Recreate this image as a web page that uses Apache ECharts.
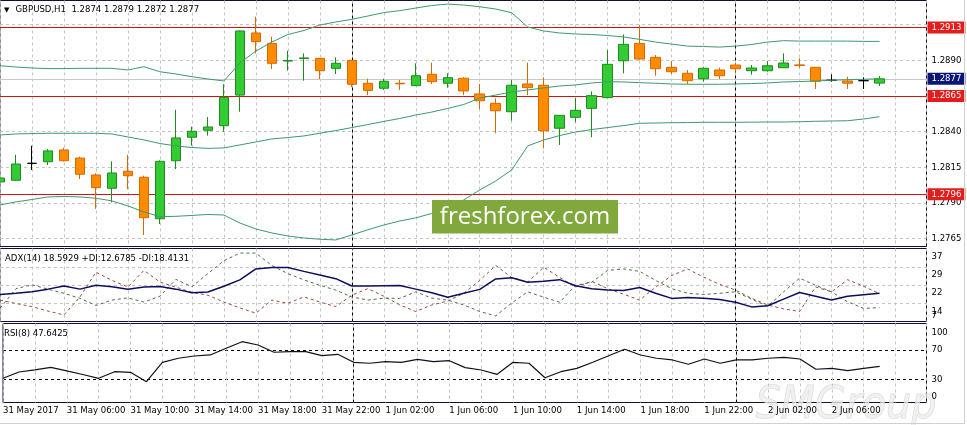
<!DOCTYPE html>
<html>
<head>
<meta charset="utf-8">
<script src="https://cdn.jsdelivr.net/npm/echarts@6/dist/echarts.min.js"></script>
<style>html,body{margin:0;padding:0;background:#fff;overflow:hidden}#c{width:967px;height:425px}</style>
</head>
<body>
<div id="c"></div>
<script>
// ---------------- data ----------------
const symbolName = 'GBPUSD,H1';
const adxPeriod = 14;
const rsiPeriod = 8;

const times = [
  '31 May 02:00','31 May 03:00','31 May 04:00','31 May 05:00','31 May 06:00','31 May 07:00','31 May 08:00','31 May 09:00',
  '31 May 10:00','31 May 11:00','31 May 12:00','31 May 13:00','31 May 14:00','31 May 15:00','31 May 16:00','31 May 17:00',
  '31 May 18:00','31 May 19:00','31 May 20:00','31 May 21:00','31 May 22:00','31 May 23:00',
  '1 Jun 00:00','1 Jun 01:00','1 Jun 02:00','1 Jun 03:00','1 Jun 04:00','1 Jun 05:00','1 Jun 06:00','1 Jun 07:00',
  '1 Jun 08:00','1 Jun 09:00','1 Jun 10:00','1 Jun 11:00','1 Jun 12:00','1 Jun 13:00','1 Jun 14:00','1 Jun 15:00',
  '1 Jun 16:00','1 Jun 17:00','1 Jun 18:00','1 Jun 19:00','1 Jun 20:00','1 Jun 21:00','1 Jun 22:00','1 Jun 23:00',
  '2 Jun 00:00','2 Jun 01:00','2 Jun 02:00','2 Jun 03:00','2 Jun 04:00','2 Jun 05:00','2 Jun 06:00','2 Jun 07:00',
  '2 Jun 08:00','2 Jun 09:00'
];

const tickBars = ['31 May 02:00','31 May 06:00','31 May 10:00','31 May 14:00','31 May 18:00','31 May 22:00',
  '1 Jun 02:00','1 Jun 06:00','1 Jun 10:00','1 Jun 14:00','1 Jun 18:00','1 Jun 22:00','2 Jun 02:00','2 Jun 06:00'];
const tickLabels = ['31 May 2017','31 May 06:00','31 May 10:00','31 May 14:00','31 May 18:00','31 May 22:00',
  '1 Jun 02:00','1 Jun 06:00','1 Jun 10:00','1 Jun 14:00','1 Jun 18:00','1 Jun 22:00','2 Jun 02:00','2 Jun 06:00'];

const opens = [1.28046,1.28058,1.28177,1.28188,1.28271,1.28214,1.28095,1.28002,1.28121,1.28079,1.27788,1.28195,1.28360,1.28409,
  1.28441,1.28656,1.29092,1.29019,1.28895,1.28913,1.28914,1.28844,1.28900,1.28739,1.28704,1.28739,1.28722,1.28802,
  1.28739,1.28774,1.28664,1.28598,1.28539,1.28734,1.28725,1.28423,1.28500,1.28563,1.28638,1.28897,1.29019,1.28921,
  1.28851,1.28809,1.28771,1.28832,1.28867,1.28827,1.28827,1.28848,1.28868,1.28851,1.28760,1.28755,1.28757,1.28740];
const closes = [1.28074,1.28172,1.28177,1.28264,1.28195,1.28100,1.28006,1.28109,1.28090,1.27795,1.28191,1.28355,1.28402,1.28432,
  1.28640,1.29106,1.29031,1.28879,1.28899,1.28917,1.28827,1.28879,1.28732,1.28689,1.28753,1.28735,1.28792,1.28750,
  1.28778,1.28685,1.28616,1.28546,1.28725,1.28708,1.28406,1.28514,1.28549,1.28652,1.28872,1.29012,1.28909,1.28841,
  1.28820,1.28757,1.28844,1.28792,1.28841,1.28846,1.28862,1.28881,1.28864,1.28753,1.28760,1.28739,1.28757,1.28770];
const lows = [1.28010,1.28055,1.28130,1.28165,1.28190,1.28067,1.27858,1.27903,1.27995,1.27674,1.27751,1.28137,1.28301,1.28371,
  1.28399,1.28539,1.28949,1.28839,1.28827,1.28757,1.28769,1.28804,1.28711,1.28656,1.28692,1.28692,1.28720,1.28734,
  1.28708,1.28656,1.28558,1.28388,1.28476,1.28656,1.28282,1.28306,1.28465,1.28360,1.28636,1.28809,1.28902,1.28792,
  1.28804,1.28734,1.28750,1.28769,1.28820,1.28799,1.28820,1.28847,1.28848,1.28699,1.28750,1.28699,1.28699,1.28720];
const highs = [1.28102,1.28237,1.28300,1.28278,1.28287,1.28224,1.28107,1.28191,1.28237,1.28090,1.28198,1.28553,1.28434,1.28502,
  1.28732,1.29110,1.29206,1.29066,1.28967,1.28949,1.28916,1.28921,1.28902,1.28771,1.28771,1.28762,1.28879,1.28883,
  1.28809,1.28781,1.28734,1.28633,1.28762,1.28883,1.28781,1.28516,1.28635,1.28682,1.28972,1.29082,1.29146,1.28937,
  1.28895,1.28832,1.28851,1.28848,1.28879,1.28867,1.28895,1.28949,1.28914,1.28852,1.28802,1.28785,1.28781,1.28790];

const bbUpper = [1.28862,1.28853,1.28846,1.28842,1.28842,1.28844,1.28844,1.28844,1.28832,1.28855,1.28820,1.28804,1.28785,1.28769,
  1.28755,1.28881,1.28965,1.29028,1.29081,1.29109,1.29148,1.29169,1.29188,1.29211,1.29235,1.29249,1.29267,1.29285,
  1.29295,1.29288,1.29276,1.29260,1.29234,1.29134,1.29106,1.29092,1.29085,1.29081,1.29074,1.29064,1.29047,1.29028,
  1.29014,1.29000,1.28997,1.28993,1.29000,1.29011,1.29028,1.29038,1.29035,1.29035,1.29035,1.29035,1.29033,1.29033];
const bbMiddle = [1.28376,1.28383,1.28386,1.28388,1.28388,1.28388,1.28388,1.28383,1.28362,1.28341,1.28316,1.28299,1.28288,1.28282,
  1.28285,1.28306,1.28327,1.28348,1.28358,1.28369,1.28388,1.28407,1.28428,1.28449,1.28471,1.28492,1.28516,1.28537,
  1.28562,1.28590,1.28635,1.28656,1.28678,1.28692,1.28706,1.28720,1.28727,1.28741,1.28750,1.28748,1.28743,1.28739,
  1.28734,1.28732,1.28732,1.28732,1.28734,1.28737,1.28741,1.28748,1.28751,1.28755,1.28760,1.28764,1.28767,1.28771];
const bbLower = [1.27885,1.27906,1.27923,1.27941,1.27944,1.27941,1.27932,1.27913,1.27878,1.27836,1.27802,1.27805,1.27811,1.27818,
  1.27814,1.27758,1.27716,1.27688,1.27667,1.27653,1.27644,1.27639,1.27674,1.27710,1.27744,1.27772,1.27794,1.27825,
  1.27870,1.27920,1.27990,1.28053,1.28130,1.28299,1.28341,1.28372,1.28397,1.28414,1.28428,1.28442,1.28458,1.28460,
  1.28462,1.28463,1.28465,1.28465,1.28465,1.28466,1.28467,1.28467,1.28469,1.28472,1.28474,1.28476,1.28488,1.28504];

const adxMain = [18.1,18.6,19.2,20.3,21.6,20.3,21.9,21.3,20.3,21.2,21.4,20.3,18.8,19.1,21.5,24.1,28.6,29.2,29.2,27.6,26.1,24.6,
  21.6,21.6,21.7,21.8,20.3,18.8,17.0,18.6,20.2,24.5,25.0,23.1,23.5,24.2,21.7,20.5,19.9,19.7,21.0,18.6,16.5,16.9,
  16.6,16.0,14.9,13.0,13.5,16.2,18.9,17.4,15.8,17.4,18.0,18.5929];
const plusDI = [12.4,20.5,22.1,20.3,18.6,16.5,13.6,15.8,16.7,15.0,17.4,24.3,21.3,26.7,32.0,35.1,35.1,30.0,26.7,24.1,21.9,19.9,
  17.1,15.8,16.6,16.5,19.2,16.6,15.8,13.8,11.1,9.3,14.6,19.2,17.0,14.9,21.9,23.1,28.0,28.6,27.6,23.9,20.5,18.6,
  18.1,18.6,19.2,16.2,13.2,19.2,24.8,21.9,19.2,15.1,12.4,12.6785];
const minusDI = [15.8,14.4,13.1,11.3,9.7,17.1,27.3,23.9,21.2,28.0,23.2,21.1,19.0,17.8,15.0,12.6,10.4,15.8,14.5,17.1,15.0,13.1,
  17.8,20.5,17.4,13.8,11.1,13.8,15.4,18.6,23.9,30.0,25.1,23.2,29.3,25.1,21.2,23.5,20.5,18.2,15.8,21.1,25.9,28.6,
  25.2,22.3,19.9,16.5,13.8,12.2,11.1,21.2,19.2,24.2,21.5,18.4131];

const rsiValues = [31.4,40.0,43.0,46.3,41.4,36.6,31.4,40.4,39.6,26.8,53.2,58.7,61.8,63.2,72.3,81.3,76.8,66.9,67.7,67.7,62.2,64.1,
  53.2,51.9,54.0,53.2,57.3,54.0,55.4,45.9,42.7,36.8,53.2,51.9,32.2,40.4,45.0,53.2,62.2,71.0,63.2,58.7,56.4,50.5,
  57.7,51.9,56.4,56.4,58.7,60.0,57.7,43.7,45.0,41.8,45.0,47.6425];

const priceGridLevels = [1.2765,1.2790,1.2815,1.2840,1.2865,1.2890,1.2915];
const priceLabelLevels = [1.2765,1.2790,1.2815,1.2840,1.2890];
const levelLines = [1.2913,1.2865,1.2796];
const bidPrice = 1.2877;
const adxGridLevels = [14.5,22,29.5];
const adxTickValues = [14.5,22,29.5,37];
const adxTickLabels = ['14','22','29','37'];
const adxMinTick = 7;
const rsiLevels = [30,70];
const rsiTickValues = [0,30,70,100];

// ---------------- chart ----------------
const FONT = 'Tahoma, "DejaVu Sans Condensed", "Liberation Sans", sans-serif';
const FS = 9.5;
const TXT = '#000';
const FRAME = '#101030';
const GRIDC = '#c4c4c4';

const last = opens.length - 1;
const candleData = opens.map((o, i) => [i, o, closes[i], lows[i], highs[i]]);
const asXY = arr => arr.map((v, i) => [i, v]);
const sepIdx = times.map((t, i) => t.endsWith('00:00') ? i : -1).filter(i => i >= 0);
const tickPos = tickBars.map(b => times.indexOf(b));
const labelAt = {};
tickPos.forEach((p, k) => { labelAt[p] = tickLabels[k]; });
const adxLabelAt = {};
adxTickValues.forEach((v, k) => { adxLabelAt[v] = adxTickLabels[k]; });

const headerMain = symbolName + '  ' + [opens[last], highs[last], lows[last], closes[last]].map(v => v.toFixed(4)).join(' ');
const headerAdx = 'ADX(' + adxPeriod + ') ' + adxMain[last].toFixed(4) + ' +DI:' + plusDI[last].toFixed(4) + ' -DI:' + minusDI[last].toFixed(4);
const headerRsi = 'RSI(' + rsiPeriod + ') ' + rsiValues[last].toFixed(4);

const X_MAX = 57.9375;
function xAxisFor(gi, withLabels) {
  return {
    type: 'value', gridIndex: gi, min: 0, max: X_MAX, interval: 2,
    axisLine: { show: false }, axisTick: { show: false },
    axisLabel: withLabels ? {
      show: true, customValues: tickPos, formatter: v => labelAt[v] || '',
      color: TXT, fontFamily: FONT, fontSize: FS, align: 'left', margin: 3
    } : { show: false },
    splitLine: { show: true, lineStyle: { color: GRIDC, type: [3, 3], width: 1 } }
  };
}
const sepLines = sepIdx.map(i => ({ xAxis: i, lineStyle: { color: '#000', type: [3, 3], width: 1 }, label: { show: false } }));
function boxLabel(v, bg) {
  return {
    show: true, position: 'end', distance: 1, formatter: () => v.toFixed(4),
    color: '#fff', backgroundColor: bg, padding: [1, 4, 0, 4],
    fontFamily: FONT, fontSize: FS, lineHeight: 11
  };
}

const option = {
  animation: false,
  backgroundColor: '#fff',
  grid: [
    { left: -0.5, right: 40.5, top: 0.5, height: 246, show: true, borderColor: FRAME, borderWidth: 1, backgroundColor: 'transparent' },
    { left: -0.5, right: 40.5, top: 248.5, height: 73, show: true, borderColor: FRAME, borderWidth: 1, backgroundColor: 'transparent' },
    { left: -0.5, right: 40.5, top: 323.5, height: 79, show: true, borderColor: FRAME, borderWidth: 1, backgroundColor: 'transparent' }
  ],
  xAxis: [xAxisFor(0, false), xAxisFor(1, false), xAxisFor(2, true)],
  yAxis: [
    {
      type: 'value', gridIndex: 0, position: 'right', min: 1.27593, max: 1.29320,
      axisLine: { show: false }, axisTick: { show: false, customValues: priceGridLevels },
      axisLabel: { customValues: priceLabelLevels, formatter: v => v.toFixed(4), color: TXT, fontFamily: FONT, fontSize: FS, margin: 5 },
      splitLine: { show: true, lineStyle: { color: GRIDC, type: [3, 3], width: 1 } }
    },
    {
      type: 'value', gridIndex: 1, position: 'right', min: 7, max: 37,
      axisLine: { show: false }, axisTick: { show: false, customValues: adxGridLevels },
      axisLabel: {
        customValues: adxTickValues, formatter: v => adxLabelAt[v] || '', color: TXT, fontFamily: FONT, fontSize: FS, margin: 5,
        verticalAlign: 'top', padding: [3, 0, 0, 0], showMinLabel: true, showMaxLabel: true
      },
      splitLine: { show: true, lineStyle: { color: GRIDC, type: [3, 3], width: 1 } }
    },
    {
      type: 'value', gridIndex: 2, position: 'right', min: -1.6, max: 106.1,
      axisLine: { show: false }, axisTick: { show: false, customValues: rsiLevels },
      axisLabel: {
        customValues: rsiTickValues, formatter: v => String(v), color: TXT, fontFamily: FONT, fontSize: FS, margin: 5,
        verticalAlign: 'middle', verticalAlignMinLabel: 'bottom', verticalAlignMaxLabel: 'top', showMinLabel: true, showMaxLabel: true
      },
      splitLine: { show: true, lineStyle: { color: '#000', type: [3, 3], width: 1 } }
    },
    {
      type: 'value', gridIndex: 1, position: 'right', offset: 0, min: 7, max: 37,
      axisLine: { show: false }, axisTick: { show: false, customValues: [adxMinTick] },
      axisLabel: {
        customValues: [adxMinTick], formatter: v => String(v), color: TXT, fontFamily: FONT, fontSize: FS, margin: 5,
        verticalAlign: 'bottom', showMinLabel: true, padding: [0, 0, 1, 0]
      },
      splitLine: { show: false }
    }
  ],
  series: [
    {
      type: 'candlestick', xAxisIndex: 0, yAxisIndex: 0, data: candleData, barWidth: 10, z: 2, silent: true,
      encode: { x: 0, y: [1, 2, 3, 4] },
      itemStyle: { color: '#33cc33', color0: '#ff8c00', borderColor: '#1f8a1f', borderColor0: '#d66a00', borderColorDoji: '#000', borderWidth: 1 }
    },
    { type: 'line', xAxisIndex: 0, yAxisIndex: 0, data: asXY(bbUpper), symbol: 'none', z: 3, silent: true, lineStyle: { color: '#3d9a6c', width: 1 } },
    {
      type: 'line', xAxisIndex: 0, yAxisIndex: 0, data: asXY(bbMiddle), symbol: 'none', z: 3, silent: true, lineStyle: { color: '#3d9a6c', width: 1 },
      markLine: {
        silent: true, symbol: ['none', 'none'], z: 1, animation: false, precision: 5,
        data: [{ yAxis: bidPrice, lineStyle: { color: '#c8c8c8', width: 1, type: 'solid' }, label: boxLabel(bidPrice, '#0a1672') }]
          .concat(levelLines.map(v => ({ yAxis: v, lineStyle: { color: '#d01414', width: 1, type: 'solid' }, label: boxLabel(v, '#e41c1c') })))
          .concat(sepLines)
      }
    },
    { type: 'line', xAxisIndex: 0, yAxisIndex: 0, data: asXY(bbLower), symbol: 'none', z: 3, silent: true, lineStyle: { color: '#3d9a6c', width: 1 } },
    {
      type: 'line', xAxisIndex: 1, yAxisIndex: 1, data: asXY(adxMain), symbol: 'none', z: 4, silent: true,
      lineStyle: { color: '#0c0c60', width: 1.5 },
      markLine: { silent: true, symbol: ['none', 'none'], z: 1, animation: false, precision: 5, data: sepLines }
    },
    { type: 'line', xAxisIndex: 1, yAxisIndex: 1, data: asXY(plusDI), symbol: 'none', z: 3, silent: true, lineStyle: { color: '#4a6f4a', width: 1, type: [3, 3] } },
    { type: 'line', xAxisIndex: 1, yAxisIndex: 1, data: asXY(minusDI), symbol: 'none', z: 3, silent: true, lineStyle: { color: '#9c4a3c', width: 1, type: [3, 3] } },
    {
      type: 'line', xAxisIndex: 2, yAxisIndex: 2, data: asXY(rsiValues), symbol: 'none', z: 3, silent: true,
      lineStyle: { color: '#101020', width: 1.2 },
      markLine: { silent: true, symbol: ['none', 'none'], z: 1, animation: false, precision: 5, data: sepLines }
    }
  ],
  graphic: [
    { type: 'text', x: 4, y: 10, z: 50, style: { text: '▼', font: '7px "DejaVu Sans"', fill: '#000', verticalAlign: 'middle' } },
    { type: 'text', x: 15.5, y: 10, z: 50, style: { text: headerMain, font: FS + 'px ' + FONT, fill: TXT, verticalAlign: 'middle' } },
    { type: 'text', x: 5, y: 258.5, z: 50, style: { text: headerAdx, font: FS + 'px ' + FONT, fill: TXT, verticalAlign: 'middle' } },
    { type: 'text', x: 4, y: 334, z: 50, style: { text: headerRsi, font: FS + 'px ' + FONT, fill: TXT, verticalAlign: 'middle' } },
    { type: 'rect', z: 60, shape: { x: 432, y: 200, width: 186, height: 33.5 }, style: { fill: '#80a83c' } },
    { type: 'text', x: 525, y: 217, z: 61, style: { text: 'freshforex.com', font: '24px "Open Sans"', fill: '#fff', align: 'center', verticalAlign: 'middle' } },
    { type: 'text', x: 846, y: 407, z: 0, style: { text: 'SMGroup', font: 'italic 44px "DejaVu Sans Condensed", "DejaVu Sans"', fill: 'rgba(236,236,236,0.75)', stroke: 'rgba(208,208,208,0.75)', lineWidth: 1, align: 'center', verticalAlign: 'middle' } },
    { type: 'line', z: 50, shape: { x1: 964.5, y1: 0, x2: 964.5, y2: 423.5 }, style: { stroke: '#d0d0d0', lineWidth: 1 } },
    { type: 'line', z: 50, shape: { x1: 0, y1: 423.5, x2: 964.5, y2: 423.5 }, style: { stroke: '#d0d0d0', lineWidth: 1 } }
  ]
};

const chart = echarts.init(document.getElementById('c'), null, { renderer: 'canvas' });
chart.setOption(option);
</script>
</body>
</html>
